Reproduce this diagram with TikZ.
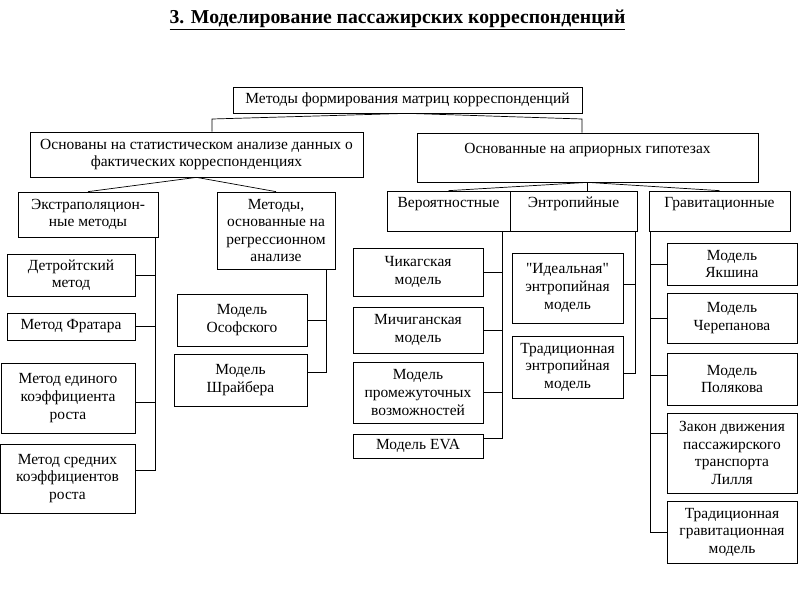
\documentclass[tikz,border=0pt]{standalone}
\usepackage{fontspec}
\setmainfont{Liberation Serif}[Ligatures=TeXOff]

\begin{document}
\begin{tikzpicture}[x=0.025cm,y=-0.025cm,line width=0.5pt,
		box/.style={draw,align=center,inner sep=1pt,font=\fontsize{11}{12.5}\selectfont}]
			\useasboundingbox (0,0) rectangle (800,600);
			\node[font=\bfseries\fontsize{14}{16}\selectfont] (title) at (397.5,20) {\underline{3. Моделирование пассажирских корреспонденций}};
		
			\node[box,minimum width=8.725cm,minimum height=0.65cm] (methods) at (407.5,100) {Методы формирования матриц корреспонденций};
			\node[box,minimum width=8.325cm,minimum height=1.125cm] (stat) at (196.5,154.5) {Основаны на статистическом анализе данных о\\фактических корреспонденциях};
			\node[box,minimum width=8.525cm,minimum height=1.225cm] (apriori) at (587.5,157.5) {Основанные на априорных гипотезах\\~};
		
			\node[box,minimum width=3.5cm,minimum height=1.125cm] (extra) at (88,214.5) {Экстраполяцион-\\ные методы};
			\node[box,minimum width=2.95cm,minimum height=1.925cm] (regr) at (276,230.5) {Методы,\\основанные на\\регрессионном\\анализе};
			\node[box,minimum width=3.075cm,minimum height=1cm] (prob) at (448.5,211) {Вероятностные\\~};
			\node[box,minimum width=3.175cm,minimum height=1cm] (entr) at (573.5,211) {Энтропийные\\~};
			\node[box,minimum width=3.525cm,minimum height=1cm] (grav) at (719.5,211) {Гравитационные\\~};
		
			\node[box,minimum width=3.2cm,minimum height=1.05cm] (detroit) at (71,275) {Детройтский\\метод};
			\node[box,minimum width=3.2cm,minimum height=0.675cm] (fratar) at (71,326.5) {Метод Фратара};
			\node[box,minimum width=3.35cm,minimum height=1.75cm] (single) at (68,398) {Метод единого\\коэффициента\\роста};
			\node[box,minimum width=3.375cm,minimum height=1.725cm] (mean) at (67.5,478.5) {Метод средних\\коэффициентов\\роста};
		
			\node[box,minimum width=3.25cm,minimum height=1.3cm] (osof) at (242,320) {Модель\\Ософского};
			\node[box,minimum width=3.325cm,minimum height=1.3cm] (schr) at (240.5,380) {Модель\\Шрайбера};
		
			\node[box,minimum width=3.25cm,minimum height=1.2cm] (chicago) at (418,272) {Чикагская\\модель};
			\node[box,minimum width=3.25cm,minimum height=1.15cm] (michigan) at (418,330) {Мичиганская\\модель};
			\node[box,minimum width=3.25cm,minimum height=1.525cm] (interv) at (418,392.5) {Модель\\промежуточных\\возможностей};
			\node[box,minimum width=3.25cm,minimum height=0.6cm] (eva) at (418,446) {Модель EVA};
		
			\node[box,minimum width=2.775cm,minimum height=1.75cm] (ideal) at (567.5,288) {"Идеальная"\\энтропийная\\модель};
			\node[box,minimum width=2.775cm,minimum height=1.55cm] (tradentr) at (567.5,367) {Традиционная\\энтропийная\\модель};
		
			\node[box,minimum width=3.25cm,minimum height=1.05cm] (yakshin) at (732,264) {Модель\\Якшина};
			\node[box,minimum width=3.25cm,minimum height=1.25cm] (cherep) at (732,318) {Модель\\Черепанова};
			\node[box,minimum width=3.25cm,minimum height=1.3cm] (polyak) at (732,379) {Модель\\Полякова};
			\node[box,minimum width=3.25cm,minimum height=2cm] (lill) at (732,453) {Закон движения\\пассажирского\\транспорта\\Лилля};
			\node[box,minimum width=3.25cm,minimum height=1.55cm] (tradgrav) at (732,532) {Традиционная\\гравитационная\\модель};
		
			\coordinate (topL) at (212,119);
			\coordinate (topR) at (582,119);
			\coordinate (extraT) at (155,237);
			\coordinate (regrT) at (326,269);
			\coordinate (probT) at (502,231);
			\coordinate (entrT) at (635,231);
			\coordinate (gravT) at (650,231);
		
			\draw (methods.south) -- (topL) -- (topL |- stat.north);
			\draw (methods.south) -- (topR) -- (topR |- apriori.north);
			\draw (extra.north) -- (stat.south) -- (regr.north);
			\draw (prob.north) -- (apriori.south) -- (grav.north);
			\draw (apriori.south) -- (apriori.south |- entr.north);
		
			\draw (detroit.east) -| (extraT);
			\draw (fratar.east) -| (extraT);
			\draw ([yshift=-1mm]single.east) -| (extraT);
			\draw ([yshift=2mm]mean.east) -| (extraT);
		
			\draw (osof.east) -| (regrT);
			\draw ([yshift=2mm]schr.east) -| (regrT);
		
			\draw (chicago.east) -| (probT);
			\draw (michigan.east) -| (probT);
			\draw (interv.east) -| (probT);
			\draw ([yshift=2mm]eva.east) -| (probT);
		
			\draw ([yshift=1mm]ideal.east) -| (entrT);
			\draw ([yshift=-1.5mm]tradentr.east) -| (entrT);
		
			\draw (yakshin.west) -| (gravT);
			\draw (cherep.west) -| (gravT);
			\draw ([yshift=1mm]polyak.west) -| (gravT);
			\draw ([yshift=5mm]lill.west) -| (gravT);
			\draw (tradgrav.west) -| (gravT);
		\end{tikzpicture}
\end{document}
